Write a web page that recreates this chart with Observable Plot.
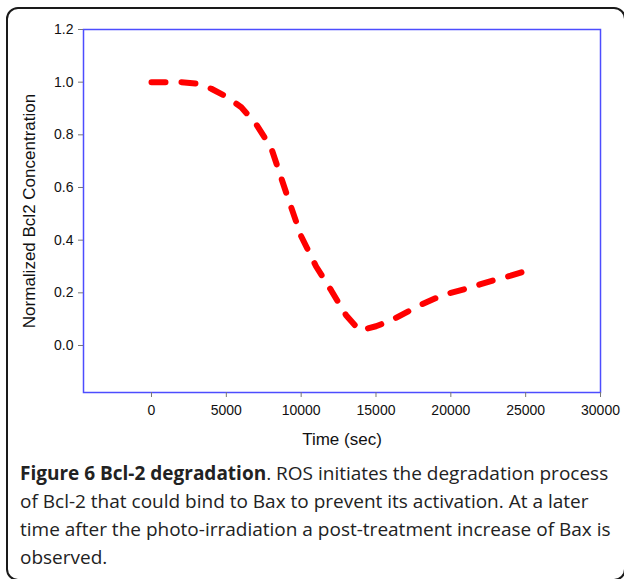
<!DOCTYPE html>
<html>
<head>
<meta charset="utf-8">
<script src="https://cdn.jsdelivr.net/npm/d3@7"></script>
<script src="https://cdn.jsdelivr.net/npm/@observablehq/plot@0.6"></script>
<style>
  html, body { margin: 0; padding: 0; background: #fff; width: 624px; height: 579px; overflow: hidden; }
  #frame { position: absolute; left: 6px; top: 7px; width: 620px; height: 574px; border: 2px solid #1a1a1a; border-radius: 12px; box-sizing: border-box; }
  #chart { position: absolute; left: 0; top: 0; }
  #chart svg { overflow: visible; }
  #chart svg text { font-family: "Liberation Sans", Arial, sans-serif; fill: #111; }
  #caption { position: absolute; left: 20px; top: 459px; font-family: "Open Sans", sans-serif; font-size: 19px; line-height: 28px; color: #222; white-space: nowrap; }
  #caption b { font-weight: 700; }
</style>
</head>
<body>
<div id="frame"></div>
<div id="chart"></div>
<div id="caption"></div>
<script>
// Data
const timeSec = [0, 1000, 2000, 3000, 4000, 5000, 6000, 7000, 8000, 9000, 10000, 11000, 12000, 13000, 13900, 15000, 16000, 17000, 18000, 19000, 20000, 21000, 22000, 23000, 24000, 25000, 25700];
const bcl2 = [1.0, 1.0, 1.0, 0.995, 0.975, 0.945, 0.905, 0.84, 0.75, 0.58, 0.415, 0.30, 0.21, 0.115, 0.057, 0.073, 0.095, 0.125, 0.155, 0.18, 0.20, 0.215, 0.233, 0.25, 0.265, 0.283, 0.295];
const xTicks = [0, 5000, 10000, 15000, 20000, 25000, 30000];
const yTicks = [0.0, 0.2, 0.4, 0.6, 0.8, 1.0, 1.2];
const xLabel = "Time (sec)";
const yLabel = "Normalized Bcl2 Concentration";
const captionBold = "Figure 6 Bcl-2 degradation";
const captionLines = [
  ". ROS initiates the degradation process",
  "of Bcl-2 that could bind to Bax to prevent its activation. At a later",
  "time after the photo-irradiation a post-treatment increase of Bax is",
  "observed."
];

const data = timeSec.map((t, i) => ({t, v: bcl2[i]}));

const chart = Plot.plot({
  width: 624,
  height: 460,
  marginLeft: 83,
  marginRight: 24,
  marginTop: 29,
  marginBottom: 68,
  style: { fontFamily: "'Liberation Sans', Arial, sans-serif", fontSize: "14px", color: "#111" },
  x: { domain: [-4543, 30000] },
  y: { domain: [-0.1785, 1.2] },
  marks: [
    Plot.frame({ stroke: "#4d4dff", strokeWidth: 1.5 }),
    Plot.axisX({ ticks: xTicks, tickFormat: d3.format("d"), tickSize: 5, tickPadding: 8, stroke: "#777", fontSize: 14, label: xLabel, labelAnchor: "center", labelArrow: "none", labelOffset: 52 }),
    Plot.axisY({ ticks: yTicks, tickFormat: d3.format(".1f"), tickSize: 5, tickPadding: 5, stroke: "#777", fontSize: 14, label: yLabel, labelAnchor: "center", labelArrow: "none", labelOffset: 61 }),
    Plot.line(data, { x: "t", y: "v", stroke: "#ff0000", strokeWidth: 6, strokeDasharray: "14,16", curve: "linear" })
  ]
});
document.getElementById("chart").appendChild(chart);
// Enlarge axis titles
chart.querySelectorAll("text").forEach(el => {
  if (el.textContent === xLabel || el.textContent === yLabel) {
    el.setAttribute("font-size", "17");
    el.style.fontSize = "17px";
  }
});

const cap = document.getElementById("caption");
cap.innerHTML = "<b>" + captionBold + "</b>" + captionLines[0] + "<br>" + captionLines.slice(1).join("<br>");
</script>
</body>
</html>
